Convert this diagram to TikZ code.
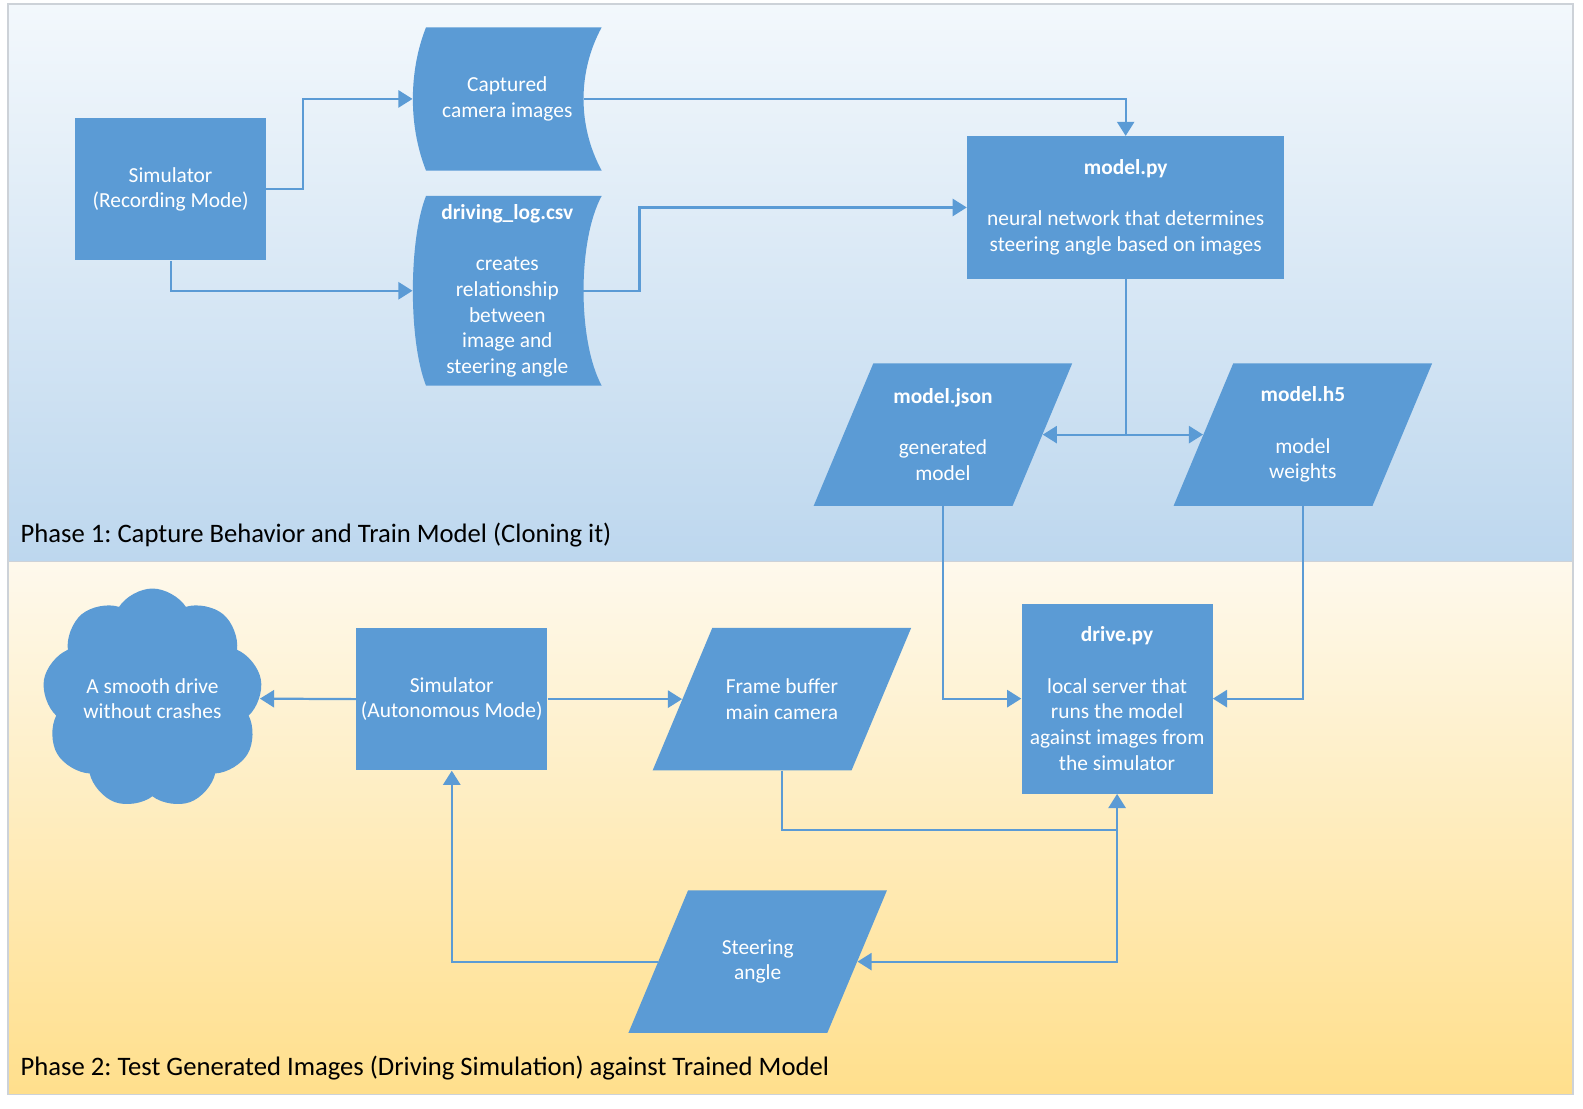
\documentclass[tikz,border=0pt]{standalone}
\usepackage{fontspec}
\setmainfont{Carlito}
\usetikzlibrary{positioning,arrows.meta,shapes.symbols}
\definecolor{officeblue}{RGB}{91,155,213}
\definecolor{skytop}{RGB}{243,248,252}
\definecolor{skybot}{RGB}{189,215,238}
\definecolor{sandtop}{RGB}{254,249,237}
\definecolor{sandbot}{RGB}{255,223,140}
\definecolor{panelline}{RGB}{205,210,216}
\newcommand\boxfont{\fontsize{10.6}{12.7}\selectfont}
\newcommand\phasefont{\fontsize{13.2}{15}\selectfont}
\newcommand\halfslant{14.75pt}
\tikzset{procbox/.style={rectangle, fill=officeblue, text=white, align=center,
  font=\boxfont, inner sep=2pt, minimum width=94.5pt, minimum height=70.5pt}}
\tikzset{iobox/.style={rectangle, text=white, align=center, font=\boxfont,
  inner sep=0pt, minimum width=128pt, minimum height=70.5pt,
  path picture={\fill[officeblue]
    ([xshift=2*\halfslant]path picture bounding box.north west)
    -- (path picture bounding box.north east)
    -- ([xshift=-2*\halfslant]path picture bounding box.south east)
    -- (path picture bounding box.south west) -- cycle;}}}
\tikzset{storebox/.style={rectangle, text=white, align=center, font=\boxfont,
  inner sep=0pt, minimum width=93.5pt, minimum height=71pt,
  path picture={\fill[officeblue]
    ([xshift=6.5pt]path picture bounding box.north west)
    .. controls +(-8.7pt,-22pt) and +(-8.7pt,22pt) ..
    ([xshift=6.5pt]path picture bounding box.south west)
    -- (path picture bounding box.south east)
    .. controls +(-12pt,22pt) and +(-12pt,-22pt) ..
    (path picture bounding box.north east) -- cycle;}}}
\tikzset{cloudbox/.style={cloud, cloud puffs=9, cloud puff arc=115, aspect=1,
  shape border rotate=20, fill=officeblue, text=white, align=center, font=\boxfont,
  minimum width=100pt, minimum height=100pt, inner sep=0pt}}
\tikzset{flow/.style={->, draw=officeblue, line width=1.1pt}}
\tikzset{phaselabel/.style={font=\phasefont, text=black, inner sep=0pt}}

\begin{document}
\frenchspacing
\begin{tikzpicture}[x=0.5pt, y=-0.5pt, >={Triangle[length=7pt,width=8.5pt]}]
  % panels
  \useasboundingbox (0,0) rectangle (1568,1098);
  \fill[white] (0,0) rectangle (1568,1098);
  \shade[top color=skytop, bottom color=skybot] (8,4) rectangle (1558,556);
  \shade[top color=sandtop, bottom color=sandbot] (8,556) rectangle (1558,1084);
  \draw[panelline, line width=0.6pt] (8,4) rectangle (1558,1084) (8,556) -- (1558,556);
  \node[phaselabel, anchor=base west] (phaseone) at (20,537)
    {Phase 1: Capture Behavior and Train Model (Cloning it)};
  \node[phaselabel, anchor=base west] (phasetwo) at (20,1065)
    {Phase 2: Test Generated Images (Driving Simulation) against Trained Model};

  % phase 1
  \node[procbox] (simrec) at (169,187.5) {Simulator\\(Recording Mode)};
  \node[storebox] (captured) at (502.5,98) {Captured\\camera images};
  \node[storebox, minimum height=94pt] (drvlog) at (502.5,288)
    {\textbf{driving\_log.csv}\\[12.7pt]creates\\relationship\\between\\image and\\steering angle};
  \node[procbox, minimum width=157pt] (modelpy) at (1115,205.5)
    {\textbf{model.py}\\[12.7pt]neural network that determines\\steering angle based on images};
  \node[iobox] (json) at (934,430.5) {\textbf{model.json}\\[12.7pt]generated\\model};
  \node[iobox] (hfive) at (1290.5,430.5) {\textbf{model.h5}\\[12.7pt]model\\weights};

  % phase 2
  \node[cloudbox] (smooth) at (151,692) {A smooth drive\\without crashes};
  \node[procbox] (simauto) at (447.5,692.5) {Simulator\\(Autonomous Mode)};
  \node[iobox] (frame) at (774.5,692.5) {Frame buffer\\main camera};
  \node[procbox, minimum height=94pt] (drive) at (1106.5,692)
    {\textbf{drive.py}\\[12.7pt]local server that\\runs the model\\against images from\\the simulator};
  \node[iobox] (steer) at (750.5,952.5) {Steering\\angle};

  \coordinate (split) at (modelpy.south |- json.east);
  \coordinate (join) at ([yshift=-18pt]drive.south);

  \draw[flow] (simrec.east) -- ++(36,0) |- (captured.west);
  \draw[flow] (simrec.south) |- (drvlog.west);
  \draw[flow] ([xshift=-9pt]captured.east) -| (modelpy.north);
  \draw[flow] ([xshift=-11pt]drvlog.east) -- ++(59,0) |- (modelpy.west);
  \draw[draw=officeblue, line width=1.1pt] (modelpy.south) -- (split);
  \draw[flow] (split) -- ([xshift=-\halfslant]json.east);
  \draw[flow] (split) -- ([xshift=\halfslant]hfive.west);
  \draw[flow] (json.south) |- (drive.west);
  \draw[flow] (hfive.south) |- (drive.east);
  \draw[flow] (simauto.west) -- (smooth.east);
  \draw[flow] (simauto.east) -- ([xshift=\halfslant]frame.west);
  \draw[flow] (frame.south) |- (join) -- (drive.south);
  \draw[flow] (join) |- ([xshift=-\halfslant]steer.east);
  \draw[flow] ([xshift=\halfslant]steer.west) -| (simauto.south);
\end{tikzpicture}
\end{document}
